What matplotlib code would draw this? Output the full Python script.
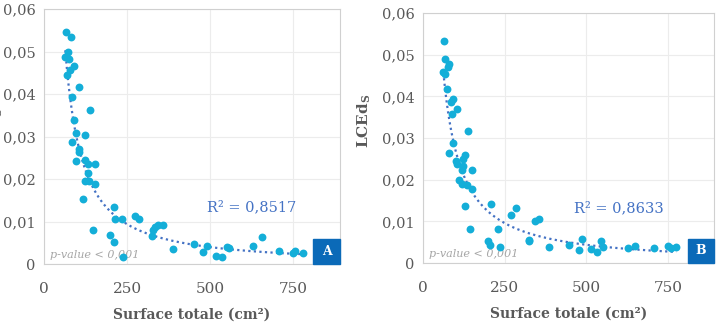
import numpy as np
import matplotlib.pyplot as plt
from matplotlib.patches import Rectangle

# Panel A
surf_a = [66, 80, 71, 64, 75, 91, 68, 78, 106, 85, 139, 89, 95, 84, 122, 104, 106, 95,
          124, 131, 153, 133, 122, 135, 152, 116, 211, 213, 234, 274, 286, 147, 199,
          210, 238, 328, 333, 344, 358, 326, 388, 450, 478, 491, 516, 535, 550, 555,
          628, 654, 708, 748, 756, 778]
lced_a = [0.0547, 0.0533, 0.0498, 0.0487, 0.0482, 0.0467, 0.0445, 0.0457, 0.0417, 0.0394,
          0.0362, 0.0339, 0.0309, 0.0287, 0.0304, 0.0270, 0.0264, 0.0242, 0.0244, 0.0236,
          0.0235, 0.0214, 0.0195, 0.0195, 0.0189, 0.0154, 0.0134, 0.0107, 0.0107, 0.0112,
          0.0106, 0.0080, 0.0069, 0.0052, 0.0017, 0.0079, 0.0087, 0.0091, 0.0093, 0.0067,
          0.0035, 0.0047, 0.0028, 0.0043, 0.0020, 0.0017, 0.0039, 0.0038, 0.0043, 0.0064,
          0.0031, 0.0027, 0.0030, 0.0027]

# Panel B
surf_b = [66, 67, 79, 76, 63, 69, 74, 93, 87, 104, 88, 138, 92, 81, 101, 106, 129, 124,
          122, 120, 150, 111, 120, 134, 150, 130, 210, 143, 198, 206, 231, 236, 271, 284,
          324, 326, 342, 355, 385, 446, 476, 486, 514, 532, 545, 552, 626, 650, 706, 748,
          758, 775]
lced_b = [0.0534, 0.0491, 0.0478, 0.0470, 0.0458, 0.0454, 0.0418, 0.0394, 0.0386, 0.0370,
          0.0357, 0.0318, 0.0288, 0.0264, 0.0244, 0.0238, 0.0260, 0.0250, 0.0234, 0.0224,
          0.0223, 0.0200, 0.0190, 0.0188, 0.0178, 0.0136, 0.0143, 0.0082, 0.0054, 0.0044,
          0.0082, 0.0038, 0.0116, 0.0132, 0.0054, 0.0056, 0.0100, 0.0106, 0.0038, 0.0044,
          0.0032, 0.0058, 0.0034, 0.0026, 0.0054, 0.0038, 0.0037, 0.0042, 0.0035, 0.0040,
          0.0036, 0.0038]

r2_labels = ['R\u00b2 = 0,8517', 'R\u00b2 = 0,8633']
panel_letters = ['A', 'B']
xticks = [0, 250, 500, 750]
yticks = [0, 0.01, 0.02, 0.03, 0.04, 0.05, 0.06]
ytick_labels = ['0', '0,01', '0,02', '0,03', '0,04', '0,05', '0,06']

plt.rcParams['font.family'] = 'DejaVu Serif'
dot_color = '#14aed8'
trend_color = '#4472c4'
text_grey = '#595959'

fig = plt.figure(figsize=(7.19, 3.22), dpi=100)
ax_a = fig.add_axes([0.0612, 0.180, 0.4117, 0.792])
ax_b = fig.add_axes([0.588, 0.183, 0.405, 0.776])

panels = [(ax_a, surf_a, lced_a), (ax_b, surf_b, lced_b)]
r2_pos = [(490, 0.0133), (462, 0.0132)]

for i, (ax, x, y) in enumerate(panels):
    x = np.array(x)
    y = np.array(y)
    ax.scatter(x, y, s=32, color=dot_color, zorder=3, linewidths=0)

    # power trendline, fitted in log-log space like Excel does
    b, loga = np.polyfit(np.log(x), np.log(y), 1)
    xs = np.linspace(x.min(), x.max(), 300)
    ax.plot(xs, np.exp(loga) * xs ** b, linestyle=(0, (1, 1.5)), color=trend_color,
            lw=1.6, zorder=2)

    ax.set_xlim(0, 890)
    ax.set_ylim(0, 0.06)
    ax.set_xticks(xticks)
    ax.set_yticks(yticks)
    ax.set_yticklabels(ytick_labels)
    ax.tick_params(length=0, labelcolor=text_grey)
    ax.tick_params(axis='x', pad=13, labelsize=11)
    ax.tick_params(axis='y', pad=6, labelsize=10.5)
    ax.grid(color='#ececec', lw=0.8)
    ax.set_axisbelow(True)
    for sp in ax.spines.values():
        sp.set_color('#d0d0d0')
    ax.set_xlabel('Surface totale (cm\u00b2)', fontsize=10, fontweight='bold',
                  color=text_grey, labelpad=8)

    ax.text(r2_pos[i][0], r2_pos[i][1], r2_labels[i], fontsize=10.5,
            color=trend_color, va='center')
    ax.text(0.02, 0.025, 'p-value < 0,001', transform=ax.transAxes, fontsize=8,
            style='italic', color='#a6a6a6', zorder=2)

    ax.add_patch(Rectangle((0.91, 0), 0.09, 0.098, transform=ax.transAxes,
                           color='#0b6ab8', zorder=4, clip_on=False))
    ax.text(0.955, 0.049, panel_letters[i], transform=ax.transAxes, color='white',
            fontsize=9, fontweight='bold', ha='center', va='center', zorder=5)

ax_b.set_ylabel('LCEd$_\\mathregular{S}$', fontsize=11, fontweight='bold',
                color=text_grey)
ax_b.yaxis.set_label_coords(-0.172, 0.57)
# the left panel's label is cut by the figure edge in the original
fig.text(-4 / 719, 1 - 135 / 322, 'LCEd$_\\mathregular{S}$', rotation=90, fontsize=11,
         fontweight='bold', color=text_grey, ha='center', va='center')

fig.savefig('out.png', dpi=100)
